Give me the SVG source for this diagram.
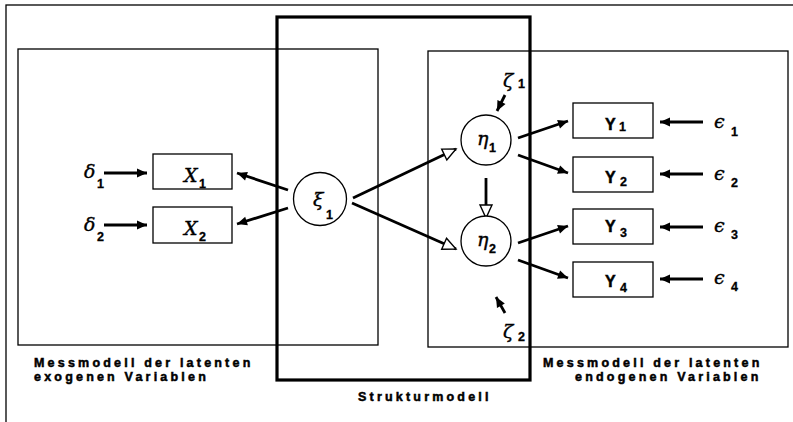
<svg xmlns="http://www.w3.org/2000/svg" width="793" height="422" viewBox="0 0 793 422">
<style>
.frame{fill:none;stroke:#000;stroke-width:1.3}
.thick{fill:none;stroke:#000;stroke-width:3.2}
.box{fill:#fff;stroke:#000;stroke-width:1.3}
.circ{fill:#fff;stroke:#000;stroke-width:1.3}
.con{fill:none;stroke:#000;stroke-width:2.8}
.lbl{font-family:"Liberation Sans",Arial,sans-serif;font-weight:bold;font-size:12.5px;letter-spacing:3.2px;fill:#000;stroke:#000;stroke-width:0.5}
.gr{font-family:"DejaVu Serif","Liberation Serif",serif;font-style:italic;font-size:19px;fill:#000;stroke:#000;stroke-width:0.4}
.sub{font-family:"Liberation Sans",Arial,sans-serif;font-weight:bold;font-size:12.5px;fill:#000;stroke:#000;stroke-width:0.3}
.yy{font-family:"Liberation Sans",Arial,sans-serif;font-weight:bold;font-size:16px;fill:#000;stroke:#000;stroke-width:0.5}
</style>
<defs>
<marker id="sa" markerUnits="userSpaceOnUse" markerWidth="11" markerHeight="9" refX="10" refY="4.5" orient="auto" overflow="visible">
<path d="M0,0 L10,4.5 L0,9 z" fill="#000"/>
</marker>
<marker id="oa" markerUnits="userSpaceOnUse" markerWidth="15" markerHeight="14" refX="14" refY="7" orient="auto" overflow="visible">
<path d="M1,1 L14,7 L1,13 z" fill="#fff" stroke="#000" stroke-width="1.4"/>
</marker>
</defs>
<rect width="793" height="422" fill="#fff"/>
<g id="frames">
<rect class="frame" x="6" y="5" width="800" height="430"/>
<rect class="frame" x="18" y="49" width="360" height="296"/>
<rect class="frame" x="428" y="51" width="360" height="296"/>
<rect class="thick" x="277" y="17" width="253" height="363"/>
</g>
<g id="connectors">
<line class="con" x1="104" y1="173" x2="147" y2="173" marker-end="url(#sa)"/>
<line class="con" x1="104" y1="225" x2="147" y2="225" marker-end="url(#sa)"/>
<line class="con" x1="288" y1="190" x2="237" y2="173" marker-end="url(#sa)"/>
<line class="con" x1="288" y1="208" x2="237" y2="224" marker-end="url(#sa)"/>
<line class="con" x1="353" y1="198" x2="456" y2="149" marker-end="url(#oa)"/>
<line class="con" x1="352" y1="203" x2="456" y2="249" marker-end="url(#oa)"/>
<line class="con" x1="486" y1="178" x2="486" y2="218" marker-end="url(#oa)"/>
<line class="con" x1="518" y1="138" x2="568" y2="121" marker-end="url(#sa)"/>
<line class="con" x1="518" y1="155" x2="568" y2="173" marker-end="url(#sa)"/>
<line class="con" x1="518" y1="243" x2="568" y2="226" marker-end="url(#sa)"/>
<line class="con" x1="518" y1="260" x2="568" y2="278" marker-end="url(#sa)"/>
<line class="con" x1="703" y1="122" x2="660" y2="122" marker-end="url(#sa)"/>
<line class="con" x1="703" y1="174" x2="660" y2="174" marker-end="url(#sa)"/>
<line class="con" x1="703" y1="227" x2="660" y2="227" marker-end="url(#sa)"/>
<line class="con" x1="703" y1="279" x2="660" y2="279" marker-end="url(#sa)"/>
<line class="con" x1="505" y1="95" x2="497" y2="111" marker-end="url(#sa)"/>
<line class="con" x1="505" y1="313" x2="496" y2="297" marker-end="url(#sa)"/>
</g>
<g id="delta1"><text class="gr" x="84" y="178">δ</text><text class="sub" x="97" y="188">1</text></g>
<g id="delta2"><text class="gr" x="84" y="231">δ</text><text class="sub" x="97" y="241">2</text></g>
<g id="X1"><rect class="box" x="153" y="154" width="79" height="35"/><text class="gr" x="184" y="182">X</text><text class="sub" x="199" y="188">1</text></g>
<g id="X2"><rect class="box" x="153" y="207" width="79" height="36"/><text class="gr" x="184" y="235">X</text><text class="sub" x="199" y="241">2</text></g>
<g id="xi1"><circle class="circ" cx="320" cy="199" r="26.5"/><text class="gr" x="313" y="206">ξ</text><text class="sub" x="326" y="219">1</text></g>
<g id="eta1"><circle class="circ" cx="486" cy="140" r="25"/><text class="gr" x="477" y="145">η</text><text class="sub" x="489" y="152">1</text></g>
<g id="eta2"><circle class="circ" cx="486" cy="241" r="25"/><text class="gr" x="477" y="246">η</text><text class="sub" x="489" y="253">2</text></g>
<g id="zeta1"><text class="gr" x="503" y="87">ζ</text><text class="sub" x="518" y="88">1</text></g>
<g id="zeta2"><text class="gr" x="503" y="338">ζ</text><text class="sub" x="518" y="341">2</text></g>
<g id="Y1"><rect class="box" x="573" y="103" width="80" height="35"/><text class="yy" x="605" y="130">Y</text><text class="sub" x="619" y="131">1</text></g>
<g id="Y2"><rect class="box" x="573" y="157" width="80" height="35"/><text class="yy" x="605" y="183">Y</text><text class="sub" x="620" y="186">2</text></g>
<g id="Y3"><rect class="box" x="573" y="209" width="80" height="35"/><text class="yy" x="605" y="232">Y</text><text class="sub" x="620" y="237">3</text></g>
<g id="Y4"><rect class="box" x="573" y="262" width="80" height="35"/><text class="yy" x="605" y="287">Y</text><text class="sub" x="620" y="292">4</text></g>
<g id="eps1"><text class="gr" x="714" y="128">ϵ</text><text class="sub" x="731" y="136">1</text></g>
<g id="eps2"><text class="gr" x="714" y="180">ϵ</text><text class="sub" x="731" y="187">2</text></g>
<g id="eps3"><text class="gr" x="714" y="232">ϵ</text><text class="sub" x="731" y="239">3</text></g>
<g id="eps4"><text class="gr" x="714" y="284">ϵ</text><text class="sub" x="731" y="291">4</text></g>
<g id="labels">
<text class="lbl" x="34" y="367">Messmodell der latenten</text>
<text class="lbl" x="34" y="381">exogenen Variablen</text>
<text class="lbl" x="358" y="401">Strukturmodell</text>
<text class="lbl" x="543" y="367">Messmodell der latenten</text>
<text class="lbl" x="575" y="381">endogenen Variablen</text>
</g>
</svg>
